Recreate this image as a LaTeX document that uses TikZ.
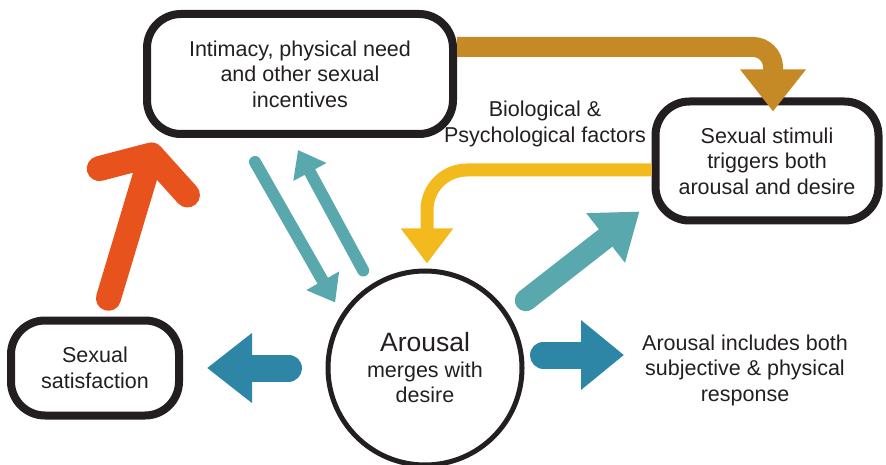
\documentclass[tikz,border=0pt]{standalone}
\usepackage{fontspec}
\setmainfont{Liberation Sans}
\usepackage{tikz}
\usetikzlibrary{arrows.meta,calc}
\definecolor{gold}{HTML}{C58A26}
\definecolor{sunny}{HTML}{F3BA1E}
\definecolor{tealx}{HTML}{58A8AE}
\definecolor{bluex}{HTML}{2E86A7}
\definecolor{rust}{HTML}{E8521C}
\definecolor{ink}{HTML}{231F20}

\begin{document}
\begin{tikzpicture}[x=1pt, y=-1pt,
  every node/.style={text=ink, align=center, font=\fontsize{21.5}{25.5}\selectfont},
  box/.style={draw=ink, line width=8pt, rounded corners=34pt},
  fat/.style={line cap=round, line width=#1}]
\useasboundingbox (0,0) rectangle (886,465);
\node[box, minimum width=306pt, minimum height=120pt] (intim) at (300,74) {Intimacy, physical need\\and other sexual\\incentives};
\node[box, minimum width=223pt, minimum height=119pt] (stim) at (767,161) {Sexual stimuli\\triggers both\\arousal and desire};
\node[box, minimum width=168pt, minimum height=95pt] (sat) at (95,368) {Sexual\\satisfaction};
\node[draw=ink, circle, line width=5pt, minimum size=194pt, inner sep=0] (circ) at (425,368) {{\fontsize{26.5}{30}\selectfont Arousal}\\merges with\\desire};
\node[inner sep=0] (bio) at (545,124) {Biological \&\\Psychological factors};
\node[inner sep=0] (resp) at (745,370) {Arousal includes both\\subjective \& physical\\response};
\draw[gold, fat=20pt, line cap=butt, rounded corners=20pt, -{Triangle[length=42pt,width=63pt]}] ($(intim.north east)+(0,37)$) -| ($(stim.north)+(6,14)$);
\draw[sunny, fat=13pt, line cap=butt, rounded corners=40pt, -{Triangle[length=35pt,width=50pt]}] ($(stim.west)+(0,9)$) -| ($(circ.north)+(2,-5)$);
\draw[tealx, fat=12pt, -{Triangle[length=25pt,width=36pt]}, shorten >=13pt] ($(intim.south)+(-45,24)$) -- (circ.147);
\draw[tealx, fat=12pt, -{Triangle[length=25pt,width=36pt]}, shorten <=16pt] (circ.123) -- ($(intim.south)+(-2,12)$);
\draw[tealx, fat=22pt, -{Triangle[length=43pt,width=60pt]}, shorten <=22pt] (circ.33) -- ($(stim.south west)+(-12,-13)$);
\draw[bluex, fat=27pt, -{Triangle[length=45pt,width=67pt]}, shorten <=37pt, shorten >=24pt] (circ.west) -- (sat.east);
\draw[bluex, fat=27pt, -{Triangle[length=43pt,width=67pt]}, shorten <=19pt, shorten >=18pt] ($(circ.east)+(0,-13)$) -- ($(resp.west)+(0,-15)$);
\draw[rust, fat=25pt, -{Straight Barb[round,length=28pt,width=92pt]}, shorten <=19pt] ($(sat.north)+(8,0)$) -- ($(intim.south west)+(12,5)$);
\end{tikzpicture}
\end{document}
